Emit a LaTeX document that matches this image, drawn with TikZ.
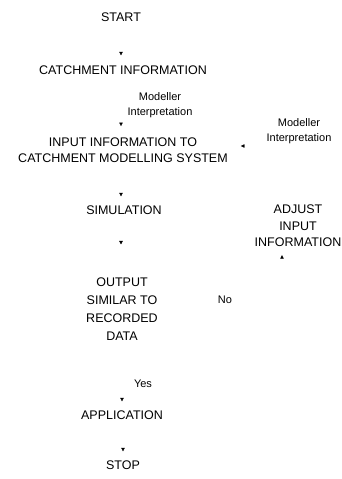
\documentclass[tikz,border=0pt]{standalone}
\usepackage{fontspec}
\setmainfont{Liberation Sans}
\usetikzlibrary{arrows.meta,backgrounds}

\begin{document}
\begin{tikzpicture}[x=1pt,y=-1pt,
  every node/.style={inner sep=0pt, align=center},
  big/.style={font=\fontsize{12.5}{16.5}\selectfont},
  small/.style={font=\fontsize{11}{14.5}\selectfont},
  conn/.style={draw=white, -{Triangle[black,length=3.5pt,width=3.5pt]}},
]
\useasboundingbox (0,0) rectangle (341,479);

% main column
\node[big] (start)  at (121,17)  {START};
\node[big] (catch)  at (123,70)  {CATCHMENT INFORMATION};
\node[big] (input)  at (123,150) {INPUT INFORMATION TO\\CATCHMENT MODELLING SYSTEM};
\node[big] (sim)    at (124,210) {SIMULATION};
\node[big, font=\fontsize{12.5}{18}\selectfont] (output) at (122,309) {OUTPUT\\SIMILAR TO\\RECORDED\\DATA};
\node[big] (app)    at (122,415) {APPLICATION};
\node[big] (stop)   at (123,465) {STOP};

% feedback branch
\node[big] (adjust) at (298,226) {ADJUST\\INPUT\\INFORMATION};

% annotations
\node[small] (mi1) at (160,105) {Modeller\\Interpretation};
\node[small] (mi2) at (299,131) {Modeller\\Interpretation};
\node[small] (no)  at (225,300) {No};
\node[small] (yes) at (143,384) {Yes};

% connectors: only their heads are inked
\begin{scope}[on background layer]
  \fill[white] (0,0) rectangle (341,479);
  \draw[conn, shorten >=10pt] (start.south) -- (start.south |- catch.north);
  \draw[conn, shorten >=11pt] (catch.south -| start.south) -- (start.south |- input.north);
  \draw[conn, shorten >=9pt]  (input.south -| start.south) -- (start.south |- sim.north);
  \draw[conn, shorten >=33pt] (sim.south -| start.south) -- (start.south |- output.north);
  \draw[conn, shorten >=9pt]  (output.south -| app.north) -- (app.north);
  \draw[conn, shorten >=9pt]  (app.south -| stop.north) -- (stop.north);
  \draw[conn, shorten >=8pt]  (output.east) -| ([xshift=-16pt]adjust.south);
  \draw[conn, shorten >=13pt] ([xshift=-16pt]adjust.north) |- ([yshift=4pt]input.east);
\end{scope}
\end{tikzpicture}
\end{document}
